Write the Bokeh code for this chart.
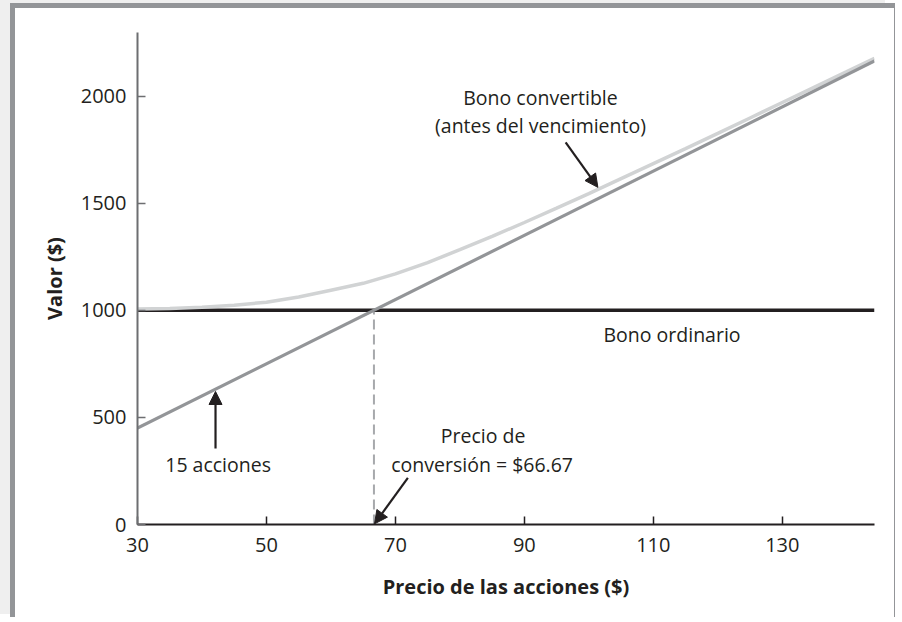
from bokeh.plotting import figure
from bokeh.models import Range1d, FixedTicker, Arrow, NormalHead
from bokeh.core.properties import value
from bokeh.embed import file_html
from bokeh.resources import INLINE

# ---- data ----
conv_price = [30, 35, 40, 45, 50, 55, 60, 65, 70, 75, 80, 85, 90, 95, 100,
              105, 110, 115, 120, 125, 130, 135, 140, 144.3]
conv_value = [1006, 1009, 1014, 1024, 1038, 1062, 1094, 1126, 1170, 1223, 1283,
              1345, 1410, 1477, 1545, 1615, 1685, 1755, 1826, 1898, 1970, 2042,
              2114, 2177]
line_price = [30, 144.3]
shares_value = [450, 2164.5]
bond_value = [1000, 1000]
conversion_price = 66.67
x_ticks = [30, 50, 70, 90, 110, 130]
y_ticks = [0, 500, 1000, 1500, 2000]

label_x = [92.5, 92.5, 112.9, 42.5, 83.6, 83.45]
label_y = [1994, 1863, 887, 280, 416, 280]
label_text = ["Bono convertible", "(antes del vencimiento)", "Bono ordinario",
              "15 acciones", "Precio de", "conversión = $66.67"]

arrow_x0 = [42.1, 96.4, 71.93]
arrow_y0 = [355, 1784, 218]
arrow_x1 = [42.1, 101.4, 66.76]
arrow_y1 = [621, 1574, 3]

INK = "#231f20"
FONT = "Open Sans"
FRAME = "#939598"

p = figure(width=885, height=614, output_backend="svg", toolbar_location=None,
           x_range=Range1d(30, 144.3), y_range=Range1d(0, 2297),
           min_border_left=122, min_border_top=24, min_border_right=26,
           min_border_bottom=98)
p.styles = {
    "margin-left": "10px",
    "margin-top": "3px",
    "border-left": f"5px solid {FRAME}",
    "border-top": f"5px solid {FRAME}",
    "border-right": f"1.5px solid {FRAME}",
    "box-shadow": "-10px -3px 0 0 #efefef",
}
p.outline_line_color = None
p.background_fill_color = "white"
p.border_fill_color = "white"
p.grid.visible = False

# dashed conversion price line
p.segment(x0=[conversion_price], y0=[0], x1=[conversion_price], y1=[bond_value[0]],
          line_color="#a7a9ac", line_width=2, line_dash="10 5")

p.line(line_price, bond_value, line_color=INK, line_width=3.5)
p.line(conv_price, conv_value, line_color="#d1d3d4", line_width=3.5)
p.line(line_price, shares_value, line_color="#939598", line_width=3.2)

p.text(x=label_x, y=label_y, text=label_text, text_font=value(FONT),
       text_font_size="19.5px", text_align="center", text_baseline="middle",
       text_color=INK)

for xs, ys, xe, ye in zip(arrow_x0, arrow_y0, arrow_x1, arrow_y1):
    p.add_layout(Arrow(end=NormalHead(size=13, fill_color=INK, line_color=INK),
                       x_start=xs, y_start=ys, x_end=xe, y_end=ye,
                       line_color=INK, line_width=2.2))

# axes
p.xaxis.ticker = FixedTicker(ticks=x_ticks)
p.yaxis.ticker = FixedTicker(ticks=y_ticks)
for ax, col in [(p.xaxis, INK), (p.yaxis, "#6d6e71")]:
    ax.axis_line_color = col
    ax.axis_line_width = 2
    ax.major_tick_line_color = col
    ax.major_tick_line_width = 1.5
    ax.major_tick_in = 8
    ax.major_tick_out = 0
    ax.minor_tick_line_color = None
    ax.major_label_text_font = FONT
    ax.major_label_text_font_size = "20px"
    ax.major_label_text_color = INK
    ax.axis_label_text_font = FONT
    ax.axis_label_text_font_size = "20px"
    ax.axis_label_text_font_style = "bold"
    ax.axis_label_text_color = INK

p.xaxis.axis_label = "Precio de las acciones ($)"
p.yaxis.axis_label = "Valor ($)"
p.xaxis.major_label_standoff = 13
p.yaxis.major_label_standoff = 11
p.xaxis.axis_label_standoff = 18
p.yaxis.axis_label_standoff = 10

open("out.html", "w").write(file_html(p, INLINE))
